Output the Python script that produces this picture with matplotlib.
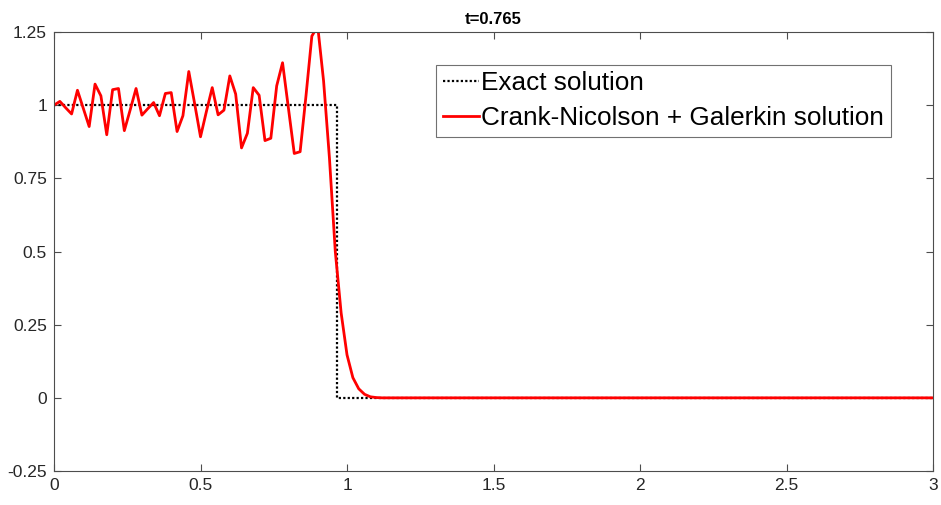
import matplotlib.pyplot as plt
import numpy as np

plt.rcParams["font.family"] = ["Liberation Sans", "DejaVu Sans"]

# grid spacing of the finite element mesh on [0, 3]
H = 0.02
N_NODES = 151

# Crank-Nicolson + Galerkin nodal values (nodes 0..55, zero further right)
cn_values = [
    1.000, 1.013, 0.991, 0.970, 1.051, 0.989, 0.927, 1.072, 1.032, 0.899,
    1.053, 1.057, 0.913, 0.984, 1.057, 0.966, 0.988, 1.009, 0.964, 1.040,
    1.043, 0.910, 0.964, 1.115, 1.005, 0.892, 0.978, 1.060, 0.967, 0.983,
    1.100, 1.038, 0.854, 0.904, 1.060, 1.034, 0.879, 0.887, 1.066, 1.145,
    0.991, 0.835, 0.841, 1.032, 1.236, 1.270, 1.083, 0.820, 0.500, 0.290,
    0.147, 0.069, 0.031, 0.012, 0.0035, 0.001,
]

# exact solution: unit step whose front has moved to x = 0.965
front_x = 0.965
exact_x = [0.0, front_x, front_x, 3.0]
exact_u = [1.0, 1.0, 0.0, 0.0]

title_text = "t=0.765"
x_ticks = [0, 0.5, 1, 1.5, 2, 2.5, 3]
x_tick_labels = ["0", "0.5", "1", "1.5", "2", "2.5", "3"]
y_ticks = [-0.25, 0, 0.25, 0.5, 0.75, 1, 1.25]
y_tick_labels = ["-0.25", "0", "0.25", "0.5", "0.75", "1", "1.25"]

x_nodes = np.arange(N_NODES) * H
u_num = np.zeros(N_NODES)
u_num[: len(cn_values)] = cn_values

fig = plt.figure(figsize=(9.41, 5.05), dpi=100)
ax = fig.add_axes([0.0574, 0.0673, 0.9341, 0.8693])

ax.plot(exact_x, exact_u, color="black", linestyle=(0, (1, 1)), linewidth=1.6,
        label="Exact solution")
ax.plot(x_nodes, u_num, color="#ff0000", linewidth=2.0,
        label="Crank-Nicolson + Galerkin solution")

ax.set_xlim(0, 3)
ax.set_ylim(-0.25, 1.25)
ax.set_xticks(x_ticks)
ax.set_xticklabels(x_tick_labels)
ax.set_yticks(y_ticks)
ax.set_yticklabels(y_tick_labels)

axis_grey = "#262626"
for side in ax.spines.values():
    side.set_color("#4d4d4d")
    side.set_linewidth(0.8)
ax.tick_params(direction="in", length=5, width=0.8, colors="#4d4d4d",
               labelcolor=axis_grey, labelsize=12.5, top=True, right=True,
               pad=5)

ax.set_title(title_text, fontsize=12, fontweight="bold", pad=6)

leg = ax.legend(loc="upper left", bbox_to_anchor=(0.4346, 0.925),
                fontsize=18.8, frameon=True, fancybox=False,
                handlelength=1.4, handletextpad=0.08, borderpad=0.25,
                labelspacing=0.42, borderaxespad=0.0)
leg.get_frame().set_edgecolor("#4d4d4d")
leg.get_frame().set_linewidth(0.8)

fig.savefig("out.png", dpi=100)
